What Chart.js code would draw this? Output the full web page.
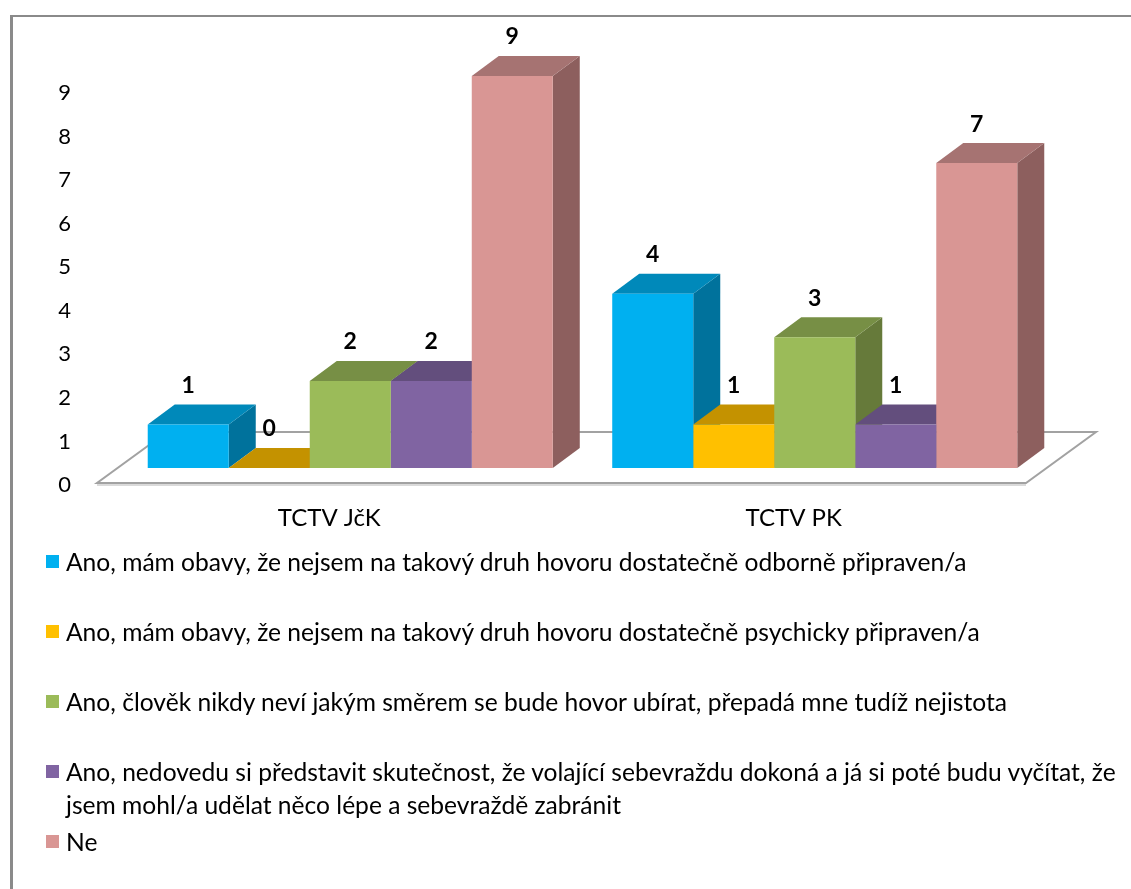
<!DOCTYPE html>
<html>
<head>
<meta charset="utf-8">
<script src="https://cdn.jsdelivr.net/npm/chart.js@4.4.1/dist/chart.umd.min.js"></script>
<style>
  html, body { margin: 0; padding: 0; background: #fff; }
  #wrap { position: relative; width: 1131px; height: 889px; overflow: hidden; }
  #frame { position: absolute; left: 10px; top: 15px; right: -5px; bottom: -5px;
           border-left: 3px solid #8a8a8a; border-top: 2px solid #8a8a8a; }
  #c { position: absolute; left: 0; top: 0; }
  #legend { position: absolute; left: 46px; top: 545px; width: 1075px;
            font-family: Lato, "Open Sans", sans-serif; font-size: 24.6px; color: #000; }
  .item { position: relative; height: 70px; padding-left: 20px; line-height: 33px; }
  .sw { position: absolute; left: 0; top: 10px; width: 13px; height: 13px; }
</style>
</head>
<body>
<div id="wrap">
  <div id="frame"></div>
  <canvas id="c" width="1131" height="889"></canvas>
  <div id="legend"></div>
</div>
<script>
// Categories (crisis lines) and the answers per option
const categories = ['TCTV JčK', 'TCTV PK'];
const seriesNames = [
  'Ano, mám obavy, že nejsem na takový druh hovoru dostatečně odborně připraven/a',
  'Ano, mám obavy, že nejsem na takový druh hovoru dostatečně psychicky připraven/a',
  'Ano, člověk nikdy neví jakým směrem se bude hovor ubírat, přepadá mne tudíž nejistota',
  'Ano, nedovedu si představit skutečnost, že volající sebevraždu dokoná a já si poté budu vyčítat, že jsem mohl/a udělat něco lépe a sebevraždě zabránit',
  'Ne'
];
const odbornePripraven = [1, 4];
const psychickyPripraven = [0, 1];
const nejistota = [2, 3];
const vycitky = [2, 1];
const ne = [9, 7];
const yTickValues = [0, 1, 2, 3, 4, 5, 6, 7, 8, 9];

// Face colours: front, top, side
const palette = [
  { front: '#00B0F0', top: '#0089BA', side: '#00729C' },
  { front: '#FFC000', top: '#C49200', side: '#A67B00' },
  { front: '#9BBB59', top: '#778F45', side: '#667A3A' },
  { front: '#8064A2', top: '#634E7D', side: '#54426A' },
  { front: '#D99694', top: '#A67372', side: '#8D5F5E' }
];

const seriesValues = [odbornePripraven, psychickyPripraven, nejistota, vycitky, ne];

const DEPTH_X = 27, DEPTH_Y = 20;
const FONT = 'Lato, "Open Sans", sans-serif';

function poly(ctx, pts, fill) {
  ctx.beginPath();
  ctx.moveTo(pts[0][0], pts[0][1]);
  for (let k = 1; k < pts.length; k++) ctx.lineTo(pts[k][0], pts[k][1]);
  ctx.closePath();
  ctx.fillStyle = fill;
  ctx.fill();
}

// Floor plate plus the side and top faces of each box
const boxes3d = {
  id: 'boxes3d',
  beforeDatasetsDraw(chart) {
    const ctx = chart.ctx;
    const area = chart.chartArea;
    const base = chart.scales.y.getPixelForValue(0);
    const L = area.left, R = area.right;
    ctx.save();
    // floor
    const fl = [[L - 21, base + 15], [R - 21, base + 15], [R + 49, base - 36], [L + 49, base - 36]];
    poly(ctx, fl, '#ffffff');
    ctx.lineWidth = 2;
    ctx.strokeStyle = '#dadada';
    ctx.beginPath();
    ctx.moveTo(L - 21, base + 17); ctx.lineTo(R - 21, base + 17);
    ctx.stroke();
    ctx.strokeStyle = '#a2a2a2';
    ctx.beginPath();
    ctx.moveTo(fl[0][0], fl[0][1]);
    for (let k = 1; k < 4; k++) ctx.lineTo(fl[k][0], fl[k][1]);
    ctx.closePath();
    ctx.stroke();

    const n = chart.data.labels.length;
    for (let i = 0; i < n; i++) {
      chart.data.datasets.forEach((ds, d) => {
        const el = chart.getDatasetMeta(d).data[i];
        const left = el.x - el.width / 2, right = el.x + el.width / 2;
        const top = el.y, bottom = el.base;
        const c = palette[d];
        poly(ctx, [[right, bottom], [right, top], [right + DEPTH_X, top - DEPTH_Y], [right + DEPTH_X, bottom - DEPTH_Y]], c.side);
        poly(ctx, [[left, top], [right, top], [right + DEPTH_X, top - DEPTH_Y], [left + DEPTH_X, top - DEPTH_Y]], c.top);
      });
    }
    ctx.restore();
  },
  afterDatasetsDraw(chart) {
    const ctx = chart.ctx;
    ctx.save();
    ctx.font = 'bold 23px ' + FONT;
    ctx.fillStyle = '#000';
    ctx.textAlign = 'center';
    ctx.textBaseline = 'middle';
    chart.data.datasets.forEach((ds, d) => {
      chart.getDatasetMeta(d).data.forEach((el, i) => {
        ctx.fillText(String(ds.data[i]), el.x, el.y - 39);
      });
    });
    ctx.restore();
  }
};

const chart = new Chart(document.getElementById('c'), {
  type: 'bar',
  data: {
    labels: categories,
    datasets: seriesNames.map((name, d) => ({
      label: name,
      data: seriesValues[d],
      backgroundColor: palette[d].front,
      borderWidth: 0,
      categoryPercentage: 0.872,
      barPercentage: 1
    }))
  },
  options: {
    responsive: false,
    animation: false,
    events: [],
    layout: { padding: { top: 76, left: 0, right: 84, bottom: 0 } },
    plugins: { legend: { display: false }, tooltip: { enabled: false } },
    scales: {
      x: {
        grid: { display: false, drawTicks: false },
        border: { display: false },
        ticks: { color: '#000', font: { family: FONT, size: 24 }, padding: 36, labelOffset: -21 },
        afterFit(scale) { scale.height = 889 - 468; }
      },
      y: {
        min: 0, max: 9,
        afterBuildTicks(scale) { scale.ticks = yTickValues.map(v => ({ value: v })); },
        grid: { display: false, drawTicks: false },
        border: { display: false },
        ticks: { color: '#000', font: { family: FONT, size: 22 }, padding: 47, labelOffset: 17 },
        afterFit(scale) { scale.width = 118; }
      }
    }
  },
  plugins: [boxes3d]
});

// Legend from the chart's own datasets
const legend = document.getElementById('legend');
chart.data.datasets.forEach(ds => {
  const item = document.createElement('div');
  item.className = 'item';
  const sw = document.createElement('span');
  sw.className = 'sw';
  sw.style.background = ds.backgroundColor;
  item.appendChild(sw);
  item.appendChild(document.createTextNode(ds.label));
  legend.appendChild(item);
});
</script>
</body>
</html>
